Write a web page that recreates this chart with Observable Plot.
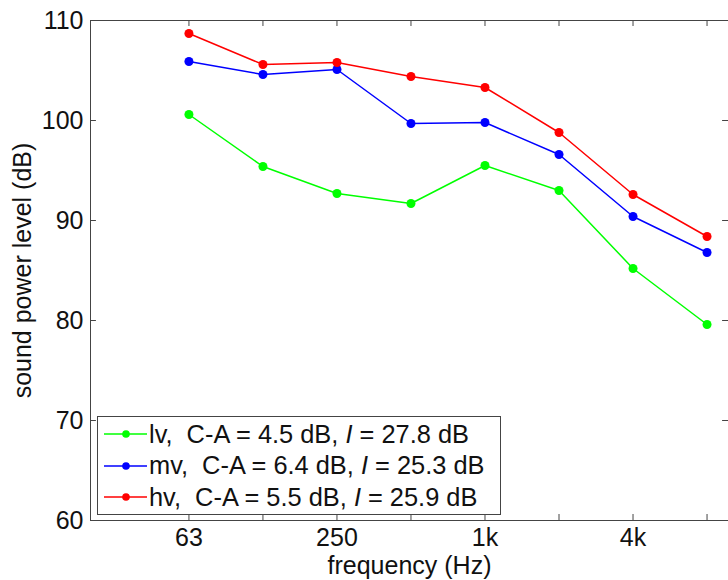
<!DOCTYPE html>
<html>
<head>
<meta charset="utf-8">
<script src="https://cdn.jsdelivr.net/npm/d3@7"></script>
<script src="https://cdn.jsdelivr.net/npm/@observablehq/plot@0.6"></script>
<style>
  body { margin: 0; background: white; }
  #wrap { position: relative; width: 728px; height: 580px; overflow: hidden; font-family: Arial, "Liberation Sans", sans-serif; }
  #legend { position: absolute; left: 97px; top: 416px; width: 404px; height: 99px; border: 1px solid #444; background: white; box-sizing: border-box; }
  .row { position: absolute; left: 6px; height: 32px; display: flex; align-items: center; font-size: 25.4px; color: #111; white-space: pre; }
  .row svg { margin-right: 2px; }
</style>
</head>
<body>
<div id="wrap"></div>
<script>
const bands = ["63", "125", "250", "500", "1k", "2k", "4k", "8k"];
const labeledBands = ["63", "250", "1k", "4k"];
const yTicks = [60, 70, 80, 90, 100, 110];

const seriesNames = ["lv", "mv", "hv"];
const seriesColors = ["#00ff00", "#0000ff", "#ff0000"];
const lv = [100.6, 95.4, 92.7, 91.7, 95.5, 93.0, 85.2, 79.6];
const mv = [105.9, 104.6, 105.1, 99.7, 99.8, 96.6, 90.4, 86.8];
const hv = [108.7, 105.6, 105.8, 104.4, 103.3, 98.8, 92.6, 88.4];
const cMinusA = ["4.5", "6.4", "5.5"];
const iValues = ["27.8", "25.3", "25.9"];

const seriesValues = [lv, mv, hv];
const rows = [];
seriesNames.forEach((name, k) => seriesValues[k].forEach((v, i) => rows.push({series: name, i, v})));
const idx = bands.map((b, i) => i);

const xMin = -1.33, xMax = 7.29;
const ink = "#444";

const chart = Plot.plot({
  width: 728, height: 580,
  marginLeft: 90, marginRight: 0, marginTop: 20, marginBottom: 60,
  style: {fontFamily: "Arial, 'Liberation Sans', sans-serif", fontSize: "25px", background: "white", color: "#111"},
  x: {type: "linear", domain: [xMin, xMax]},
  y: {domain: [60, 110]},
  color: {domain: seriesNames, range: seriesColors},
  marks: [
    Plot.axisX(idx, {tickSize: 0, tickPadding: 8, tickFormat: i => labeledBands.includes(bands[i]) ? bands[i] : "",
      label: "frequency (Hz)", labelAnchor: "center", labelOffset: 53, labelArrow: "none"}),
    Plot.axisY(yTicks, {tickSize: 0, tickPadding: 7, label: "sound power level (dB)", labelAnchor: "center", labelOffset: 77, labelArrow: "none"}),
    Plot.ruleX(idx, {y1: 60, y2: 60.6, stroke: ink}),
    Plot.ruleX(idx, {y1: 110, y2: 109.4, stroke: ink}),
    Plot.ruleY(yTicks, {x1: xMin, x2: xMin + 0.08, stroke: ink}),
    Plot.ruleY(yTicks, {x1: xMax, x2: xMax - 0.08, stroke: ink}),
    Plot.frame({stroke: ink}),
    Plot.line(rows, {x: "i", y: "v", z: "series", stroke: "series", strokeWidth: 1.5}),
    Plot.dot(rows, {x: "i", y: "v", fill: "series", r: 4.5})
  ]
});
const wrap = document.getElementById("wrap");
wrap.appendChild(chart);

const legend = document.createElement("div");
legend.id = "legend";
seriesNames.forEach((name, k) => {
  const row = document.createElement("div");
  row.className = "row";
  row.style.top = (1 + k * 31.5) + "px";
  const c = seriesColors[k];
  row.innerHTML = `<svg width="43" height="12"><line x1="0" y1="6" x2="43" y2="6" stroke="${c}" stroke-width="1.5"/><circle cx="22" cy="6" r="3.8" fill="${c}"/></svg>` +
    `${name},  C-A = ${cMinusA[k]} dB, <i>I</i> = ${iValues[k]} dB`;
  legend.appendChild(row);
});
wrap.appendChild(legend);
</script>
</body>
</html>
